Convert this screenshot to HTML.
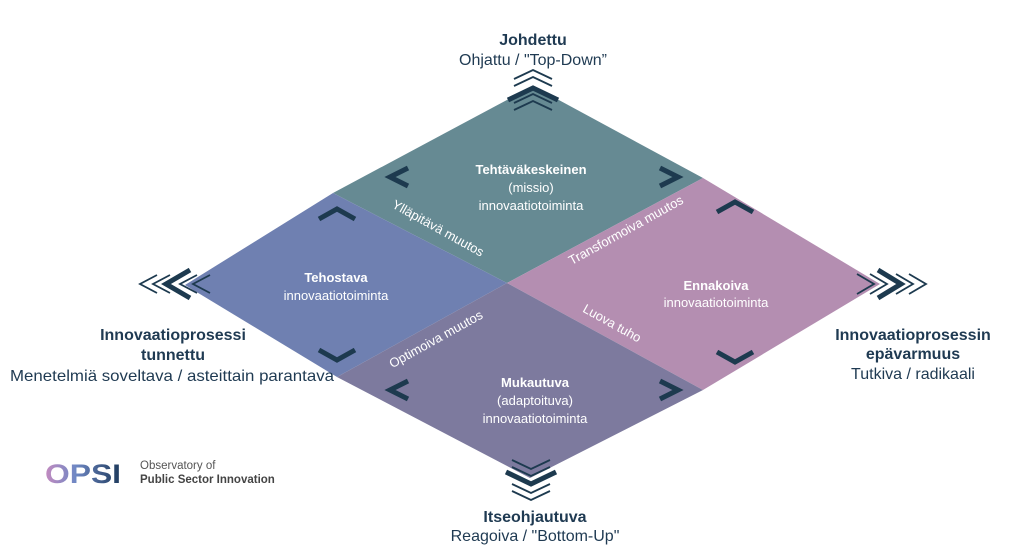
<!DOCTYPE html>
<html><head><meta charset="utf-8"><style>
html,body{margin:0;padding:0;background:#fff;width:1024px;height:553px;overflow:hidden}
svg{display:block}
text{font-family:"Liberation Sans",sans-serif}
</style></head><body>
<svg width="1024" height="553" viewBox="0 0 1024 553">
<defs>
<linearGradient id="og" x1="0" x2="1"><stop offset="0" stop-color="#c48ac0"/><stop offset="0.4" stop-color="#6f88c4"/><stop offset="1" stop-color="#1d3a5c"/></linearGradient>
</defs>
<!-- quadrants -->
<polygon points="533,86 703,178 507,283 333,193" fill="#668a93"/>
<polygon points="703,178 880,284 703,390 507,283" fill="#b48eb1"/>
<polygon points="333,193 507,283 337,377 185,285" fill="#6f80b1"/>
<polygon points="507,283 703,390 530,478 337,377" fill="#7d7a9e"/>

<g fill="none" stroke="#1d3a4f" stroke-linecap="butt">
<!-- single chevrons -->
<g stroke-width="5">
<polyline points="408,168 390,177 408,186"/>
<polyline points="660,168 678,177 660,186"/>
<polyline points="408,381 390,390 408,399"/>
<polyline points="660,381 678,390 660,399"/>
<polyline points="319,219 337,209 355,219"/>
<polyline points="319,350 337,360 355,350"/>
<polyline points="717,212 735,202 753,212"/>
<polyline points="717,352 735,362 753,352"/>
</g>
<!-- top stack -->
<g stroke-width="1.8">
<polyline points="514,79 533,70 552,79"/>
<polyline points="514,86 533,77 552,86"/>
<polyline points="514,103 533,94 552,103"/>
<polyline points="514,110 533,101 552,110"/>
</g>
<polyline points="508,100 533,88 558,100" stroke-width="5"/>
<!-- bottom stack -->
<g stroke-width="1.8">
<polyline points="512,460 531,469 550,460"/>
<polyline points="512,467 531,476 550,467"/>
<polyline points="512,484 531,493 550,484"/>
<polyline points="512,491 531,500 550,491"/>
</g>
<polyline points="506,472 531,484 556,472" stroke-width="5"/>
<!-- left stack -->
<g stroke-width="1.8">
<polyline points="157,275 140,284 157,293"/>
<polyline points="170,275 153,284 170,293"/>
<polyline points="197,275 180,284 197,293"/>
<polyline points="210,275 193,284 210,293"/>
</g>
<polyline points="190,270 166,284 190,298" stroke-width="5"/>
<!-- right stack -->
<g stroke-width="1.8">
<polyline points="857,274 874,284 857,294"/>
<polyline points="870,274 887,284 870,294"/>
<polyline points="896,274 913,284 896,294"/>
<polyline points="909,274 926,284 909,294"/>
</g>
<polyline points="878,270 901,284 878,298" stroke-width="5"/>
</g>

<!-- quadrant text -->
<g fill="#fff" font-size="13" text-anchor="middle">
<text x="531" y="174" font-weight="bold">Tehtäväkeskeinen</text>
<text x="531" y="192">(missio)</text>
<text x="531" y="210">innovaatiotoiminta</text>
<text x="336" y="282" font-weight="bold">Tehostava</text>
<text x="336" y="300">innovaatiotoiminta</text>
<text x="716" y="290" font-weight="bold">Ennakoiva</text>
<text x="716" y="307">innovaatiotoiminta</text>
<text x="535" y="387" font-weight="bold">Mukautuva</text>
<text x="535" y="405">(adaptoituva)</text>
<text x="535" y="423">innovaatiotoiminta</text>
<text transform="translate(436,232) rotate(29)">Ylläpitävä muutos</text>
<text transform="translate(628,234) rotate(-29)">Transformoiva muutos</text>
<text transform="translate(438,343) rotate(-29)">Optimoiva muutos</text>
<text transform="translate(610,327) rotate(29)">Luova tuho</text>
</g>

<!-- outer labels -->
<g fill="#1f3a52" font-size="16" text-anchor="middle">
<text x="533" y="45" font-weight="bold">Johdettu</text>
<text x="533" y="65">Ohjattu / "Top-Down”</text>
<text x="173" y="340" font-weight="bold">Innovaatioprosessi</text>
<text x="173" y="360" font-weight="bold">tunnettu</text>
<text x="172" y="381" textLength="324" lengthAdjust="spacingAndGlyphs">Menetelmiä soveltava / asteittain parantava</text>
<text x="913" y="340" font-weight="bold">Innovaatioprosessin</text>
<text x="913" y="359" font-weight="bold">epävarmuus</text>
<text x="913" y="379">Tutkiva / radikaali</text>
<text x="535" y="522" font-weight="bold">Itseohjautuva</text>
<text x="535" y="541">Reagoiva / "Bottom-Up"</text>
</g>

<!-- OPSI logo -->
<text x="45" y="483" font-size="27" font-weight="bold" fill="url(#og)" textLength="76" lengthAdjust="spacingAndGlyphs">OPSI</text>
<text x="140" y="469" font-size="11.5" fill="#555">Observatory of</text>
<text x="140" y="483" font-size="11.5" font-weight="bold" fill="#444">Public Sector Innovation</text>
</svg>
</body></html>
